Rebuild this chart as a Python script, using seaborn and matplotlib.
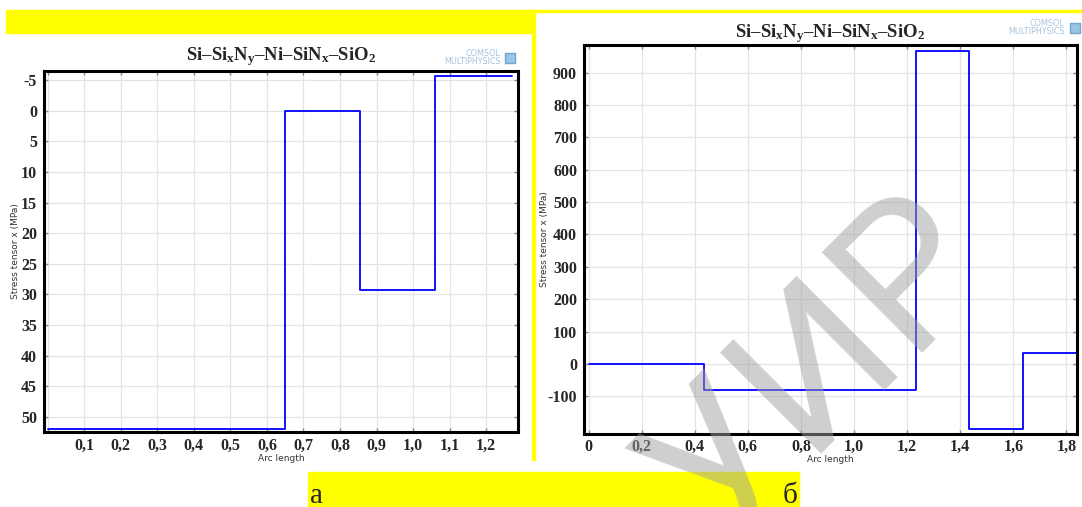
import matplotlib
matplotlib.use("Agg")
import matplotlib.pyplot as plt
import seaborn as sns
import pandas as pd
from matplotlib.patches import Rectangle

# ---- data ----
title_text = r"Si–Si$\mathrm{_x}$N$\mathrm{_y}$–Ni–SiN$\mathrm{_x}$–SiO$\mathrm{_2}$"
ylabel_text = "Stress tensor x (MPa)"
xlabel_text = "Arc length"

# panel a: step breakpoints (arc length) and stress levels
arc_a = [0.0, 0.65, 0.855, 1.06, 1.27]
stress_a = [52.0, 0.0, 29.3, -5.7, -5.7]
xticks_a = [0.0, 0.1, 0.2, 0.3, 0.4, 0.5, 0.6, 0.7, 0.8, 0.9, 1.0, 1.1, 1.2]
xticklabels_a = ["", "0,1", "0,2", "0,3", "0,4", "0,5", "0,6", "0,7", "0,8", "0,9", "1,0", "1,1", "1,2"]
yticks_a = [-5, 0, 5, 10, 15, 20, 25, 30, 35, 40, 45, 50]
yticklabels_a = ["-5", "0", "5", "10", "15", "20", "25", "30", "35", "40", "45", "50"]

# panel b
arc_b = [0.0, 0.435, 1.235, 1.435, 1.635, 1.835]
stress_b = [0.0, -80.0, 965.0, -200.0, 35.0, 35.0]
xticks_b = [0.0, 0.2, 0.4, 0.6, 0.8, 1.0, 1.2, 1.4, 1.6, 1.8]
xticklabels_b = ["0", "0,2", "0,4", "0,6", "0,8", "1,0", "1,2", "1,4", "1,6", "1,8"]
yticks_b = [-100, 0, 100, 200, 300, 400, 500, 600, 700, 800, 900]
yticklabels_b = ["-100", "0", "100", "200", "300", "400", "500", "600", "700", "800", "900"]

panel_labels = ["а", "б"]
logo_text = "COMSOL\nMULTIPHYSICS"
watermark = "УИР"

# ---- style ----
sns.set_style("white")
plt.rcParams["font.family"] = ["Liberation Serif", "DejaVu Serif"]
plt.rcParams["mathtext.fontset"] = "custom"
plt.rcParams["mathtext.rm"] = "Liberation Serif:bold"
plt.rcParams["mathtext.it"] = "Liberation Serif:bold"
plt.rcParams["mathtext.bf"] = "Liberation Serif:bold"

W, H = 1082, 507
fig = plt.figure(figsize=(W / 100, H / 100), dpi=100)
fig.patch.set_facecolor("white")

def px(x0, y0, x1, y1):
    return [x0 / W, 1 - y1 / H, (x1 - x0) / W, (y1 - y0) / H]

def frect(x0, y0, x1, y1, color, z=0):
    fig.patches.append(Rectangle((x0 / W, 1 - y1 / H), (x1 - x0) / W, (y1 - y0) / H,
                                 transform=fig.transFigure, color=color, zorder=z))

YEL = "#ffff00"
frect(6, 10, 533, 33, YEL)
frect(533, 10, W, 12, YEL)
frect(532, 10, 535, 460, YEL)
frect(308, 472, 799, 507, YEL)
fig.text(310 / W, 1 - 503 / H, panel_labels[0], fontsize=21, family="Liberation Serif",
         ha="left", va="baseline")
fig.text(798 / W, 1 - 503 / H, panel_labels[1], fontsize=21, family="Liberation Serif",
         ha="right", va="baseline")

def style_axes(ax, xticks, xlabels, yticks, ylabels, xlim, ylim, invert=False):
    ax.set_xlim(*xlim)
    if invert:
        ax.set_ylim(ylim[1], ylim[0])
    else:
        ax.set_ylim(*ylim)
    ax.set_xticks(xticks)
    ax.set_xticklabels(xlabels)
    ax.set_yticks(yticks)
    ax.set_yticklabels(ylabels)
    ax.grid(True, color="#e4e4e4", linewidth=0.9)
    ax.set_axisbelow(True)
    for s in ax.spines.values():
        s.set_color("black")
        s.set_linewidth(2.2)
    ax.tick_params(axis="both", which="both", direction="in", length=3, width=1,
                   color="#888888", top=True, right=True, bottom=True, left=True)
    ax.tick_params(axis="x", pad=4)
    ax.tick_params(axis="y", pad=5)
    for lab in ax.get_xticklabels() + ax.get_yticklabels():
        lab.set_fontweight("bold")
        lab.set_fontsize(11.5)
        lab.set_family("Liberation Serif")
    ax.set_xlabel(xlabel_text, fontsize=6.5, family="DejaVu Sans", color="#333333", labelpad=0)
    ax.set_ylabel(ylabel_text, fontsize=6.5, family="DejaVu Sans", color="#333333", labelpad=1)

def logo(ax, xr, yc):
    ax.text(xr, yc, logo_text, transform=ax.transAxes, fontsize=5.8, color="#a9c3db",
            ha="right", va="center", family="DejaVu Sans", linespacing=0.95)
    ax.scatter([xr + 0.02], [yc], transform=ax.transAxes, marker="s", s=45,
               color="#9cc4e4", edgecolor="#6fa6d4", clip_on=False, zorder=5)

# panel a
ax1 = fig.add_axes(px(44, 71, 518, 432))
df_a = pd.DataFrame({"arc": arc_a, "stress": stress_a})
sns.lineplot(data=df_a, x="arc", y="stress", ax=ax1, color="#0000ff", linewidth=1.3,
             drawstyle="steps-post", estimator=None, sort=False)
style_axes(ax1, xticks_a, xticklabels_a, yticks_a, yticklabels_a,
           (-0.01, 1.287), (-6.5, 52.5), invert=True)
ax1.set_title(title_text, fontsize=13.5, fontweight="bold", family="Liberation Serif", pad=8)
logo(ax1, 0.963, 1.037)

# panel b
ax2 = fig.add_axes(px(584, 45, 1077, 433.5))
df_b = pd.DataFrame({"arc": arc_b, "stress": stress_b})
sns.lineplot(data=df_b, x="arc", y="stress", ax=ax2, color="#0000ff", linewidth=1.3,
             drawstyle="steps-post", estimator=None, sort=False)
style_axes(ax2, xticks_b, xticklabels_b, yticks_b, yticklabels_b,
           (-0.017, 1.84), (-215, 985))
ax2.set_title(title_text, fontsize=13.5, fontweight="bold", family="Liberation Serif", pad=1)
ax2.set_ylabel(ylabel_text, fontsize=6.5, family="DejaVu Sans", color="#333333", labelpad=-1)
logo(ax2, 0.975, 1.045)

# watermark
fig.text(820 / W, 1 - 370 / H, watermark, fontsize=145, color="#a0a0a0", alpha=0.5,
         rotation=45, ha="center", va="center", family="Roboto", fontweight="normal",
         zorder=10)

fig.savefig("out.png", dpi=100)
